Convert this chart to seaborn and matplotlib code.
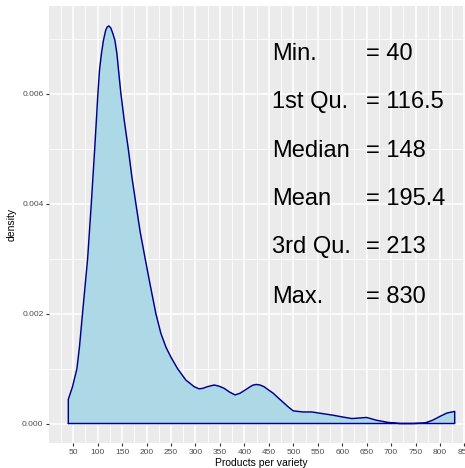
import matplotlib
matplotlib.use("Agg")
import matplotlib.pyplot as plt
import seaborn as sns
import pandas as pd
from matplotlib.ticker import FixedLocator

# Density curve values
products = [40, 48.6, 57.6, 62.9, 69, 74.5, 79.5, 87, 94, 100.5, 103.8, 107.8,
            111.9, 116.4, 119.5, 123, 127, 131.1, 135.2, 139.3, 142.6, 147.5, 154.2,
            163, 170, 178.1, 187, 197.1, 207.4, 219, 229.2, 240, 249.7, 263.2, 280.3,
            297.3, 307.5, 315, 324.5, 338.2, 348, 358.6, 370, 381, 391, 400, 412,
            418, 425, 432, 440, 459, 470, 480, 490, 500, 520, 538, 560, 582,
            600, 620, 635, 650, 670, 694, 718, 745, 769, 785, 800, 814, 830]
density = [0.00044, 0.00067, 0.0010, 0.0014, 0.0020, 0.00252, 0.0030, 0.0040,
           0.0050, 0.0060, 0.00643, 0.00673,
           0.00697, 0.00715, 0.00721, 0.00723, 0.00719, 0.00709, 0.00697, 0.00673,
           0.00643, 0.0060, 0.00552,
           0.00497, 0.00448, 0.0040, 0.00348, 0.0030, 0.00252, 0.0020, 0.00164,
           0.00138, 0.00121, 0.0010, 0.00079,
           0.00067, 0.00063, 0.00064, 0.00067, 0.0007, 0.00068, 0.00064, 0.00057,
           0.00052, 0.00055, 0.0006, 0.00067,
           0.0007, 0.00071, 0.0007, 0.00067, 0.00055, 0.00046, 0.00038, 0.0003,
           0.00023, 0.00021, 0.00021, 0.00018, 0.00015,
           0.00012, 0.00009, 0.0001, 0.00011, 0.00006, 0.00002, 0.0, 0.0, 0.00001,
           0.00006, 0.00013, 0.00019, 0.00022]

stat_labels = ["Min.", "1st Qu.", "Median", "Mean", "3rd Qu.", "Max."]
stat_values = ["= 40", "= 116.5", "= 148", "= 195.4", "= 213", "= 830"]
stat_y = [0.00661, 0.005736, 0.004851, 0.003973, 0.0031, 0.002196]

x_ticks = list(range(50, 851, 50))
y_ticks = [0.000, 0.002, 0.004, 0.006]

sns.set_theme(style="darkgrid")
plt.rcParams['font.family'] = ['Liberation Sans', 'DejaVu Sans']

fig = plt.figure(figsize=(4.65, 4.68), dpi=100)
W, H = 465, 468
left_px, right_px, top_px, bot_px = 49, 474, 6, 443.4
ax = fig.add_axes([left_px / W, 1 - bot_px / H, (right_px - left_px) / W, (bot_px - top_px) / H])
ax.set_facecolor("#EBEBEB")

# polygon outline (closed along the baseline)
poly_x = [products[0]] + products + [products[-1], products[0]]
poly_y = [0.0] + density + [0.0, 0.0]
ax.fill_between(products, density, 0, color="#ADD8E6", linewidth=0, zorder=2)
outline = pd.DataFrame({"x": poly_x, "y": poly_y})
sns.lineplot(data=outline, x="x", y="y", sort=False, estimator=None,
             color="#00008B", linewidth=1.05, ax=ax, zorder=3)
for ln in ax.lines:
    ln.set_solid_joinstyle("round")

ymax = max(density)
xr = products[-1] - products[0]
ax.set_xlim(products[0] - 0.05 * xr, products[-1] + 0.05 * xr)
ax.set_ylim(-0.05 * ymax, ymax * 1.05)

ax.xaxis.set_major_locator(FixedLocator(x_ticks))
ax.xaxis.set_minor_locator(FixedLocator([25 + 50 * i for i in range(18)]))
ax.yaxis.set_major_locator(FixedLocator(y_ticks))
ax.yaxis.set_minor_locator(FixedLocator([0.001, 0.003, 0.005, 0.007]))
ax.set_xticklabels([str(t) for t in x_ticks])
ax.set_yticklabels([f"{t:.3f}" for t in y_ticks])

ax.grid(which="major", color="white", linewidth=1.1)
ax.grid(which="minor", color="white", linewidth=0.55)
ax.set_axisbelow(True)
for s in ax.spines.values():
    s.set_visible(False)
ax.tick_params(axis="both", which="major", length=2.5, width=0.8, color="#333333",
               labelsize=6, labelcolor="#4D4D4D", pad=1.5, direction="out")
ax.tick_params(axis="both", which="minor", length=0)
ax.tick_params(axis="x", bottom=True)
ax.tick_params(axis="y", left=True)

ax.set_xlabel("Products per variety", fontsize=7.5, color="black", labelpad=1.5)
ax.set_ylabel("density", fontsize=7.5, color="black", labelpad=4)

for lab, val, y in zip(stat_labels, stat_values, stat_y):
    ax.text(456, y, lab, fontsize=17, color="black", ha="left", va="baseline", zorder=4)
    ax.text(648.8, y, val, fontsize=17, color="black", ha="left", va="baseline", zorder=4)

fig.savefig("out.png", dpi=100)
